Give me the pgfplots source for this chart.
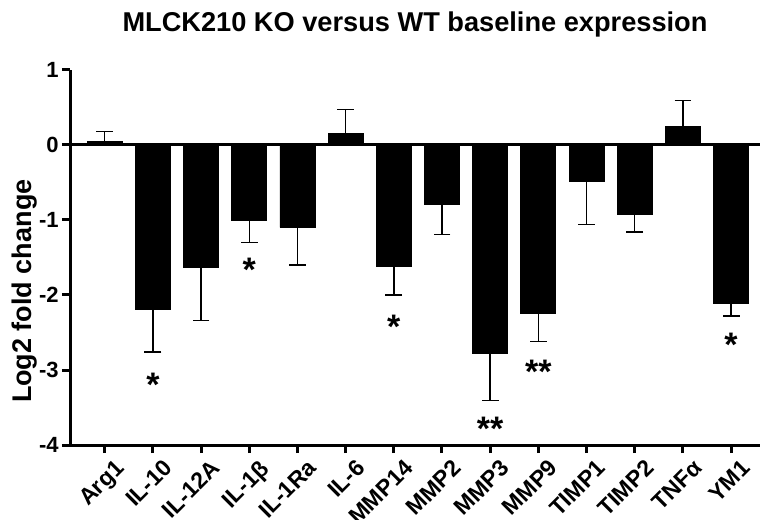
\documentclass[border=0pt]{standalone}
\usepackage{fontspec}
\setmainfont{Liberation Sans}
\usepackage{pgfplots}
\pgfplotsset{compat=1.18}

\begin{document}
\begin{tikzpicture}
\begin{axis}[
  scale only axis,
  width=345pt, height=187.5pt,
  xmin=-0.72, xmax=13.6,
  ymin=-4, ymax=1,
  axis lines=left,
  axis line style={-, line width=1.5pt},
  tick style={line width=1.5pt, black},
  tick align=outside,
  major tick length=4pt,
  xtick={0,...,13},
  xticklabels={Arg1,IL-10,IL-12A,IL-1β,IL-1Ra,IL-6,MMP14,MMP2,MMP3,MMP9,TIMP1,TIMP2,TNFα,YM1},
  x tick label style={rotate=45, anchor=north east, inner sep=1pt, xshift=2.5pt, yshift=-4pt, font=\bfseries\fontsize{11.5}{12}\selectfont},
  ytick={-4,-3,-2,-1,0,1},
  yticklabels={-4,-3,-2,-1,0,1},
  y tick label style={font=\bfseries\fontsize{11}{12}\selectfont, inner sep=1.5pt},
  ylabel={Log2 fold change},
  ylabel style={font=\bfseries\fontsize{13.5}{14}\selectfont, at={(axis description cs:-0.066,0.41)}, anchor=center},
  title={MLCK210 KO versus WT baseline expression},
  title style={font=\bfseries\fontsize{13.6}{15}\selectfont, yshift=7pt},
  ybar, bar width=17.5pt,
  clip=false,
]
% bars below zero, error bars pointing down
\addplot[fill=black, draw=black, bar shift=0pt,
  error bars/.cd, y dir=minus, y explicit,
  error bar style={line width=0.7pt},
  error mark options={rotate=90, mark size=4.2pt, line width=0.7pt}]
  coordinates {
  (1,-2.19) -= (0,0.57)
  (2,-1.63) -= (0,0.71)
  (3,-1.01) -= (0,0.29)
  (4,-1.10) -= (0,0.50)
  (6,-1.62) -= (0,0.38)
  (7,-0.79) -= (0,0.40)
  (8,-2.78) -= (0,0.63)
  (9,-2.25) -= (0,0.37)
  (10,-0.49) -= (0,0.57)
  (11,-0.92) -= (0,0.24)
  (13,-2.11) -= (0,0.17)
};
% bars above zero, error bars pointing up
\addplot[fill=black, draw=black, bar shift=0pt,
  error bars/.cd, y dir=plus, y explicit,
  error bar style={line width=0.7pt},
  error mark options={rotate=90, mark size=4.2pt, line width=0.7pt}]
  coordinates {
  (0,0.05) += (0,0.13)
  (5,0.155) += (0,0.32)
  (12,0.245) += (0,0.345)
};
% zero line
\addplot[sharp plot, line width=1.5pt, black] coordinates {(-0.72,0) (13.6,0)};
% significance marks
\tikzset{sig/.style={font=\bfseries\fontsize{17}{17}\selectfont, inner sep=0pt}}
\node[sig] at (axis cs:1,-3.2) {*};
\node[sig] at (axis cs:3,-1.67) {*};
\node[sig] at (axis cs:6,-2.43) {*};
\node[sig] at (axis cs:8,-3.79) {**};
\node[sig] at (axis cs:9,-3.03) {**};
\node[sig] at (axis cs:13,-2.66) {*};
\end{axis}
\pgfresetboundingbox
\useasboundingbox (-35pt,-37pt) rectangle (347pt,222.5pt);
\end{tikzpicture}
\end{document}
